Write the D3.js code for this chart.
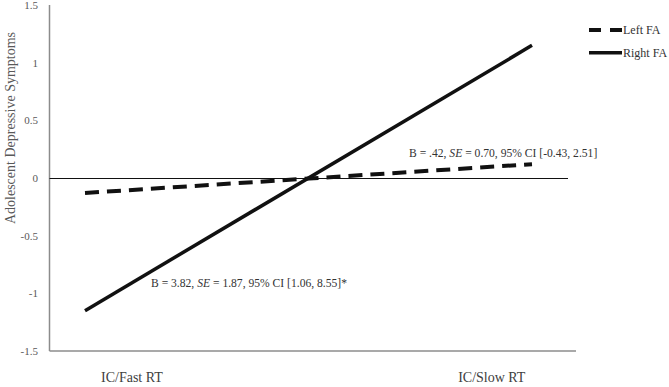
<!DOCTYPE html>
<html>
<head>
<meta charset="utf-8">
<script src="https://cdn.jsdelivr.net/npm/d3@7"></script>
<style>
  body { margin: 0; background: #fff; }
  text { font-family: "Liberation Serif", "Times New Roman", serif; }
</style>
</head>
<body>
<svg id="chart" width="669" height="387"></svg>
<script>
// Simple slopes
var categories = ['IC/Fast RT', 'IC/Slow RT'];
var xLevels = [-1, 1];
var leftFA = [-0.13, 0.12];
var rightFA = [-1.15, 1.15];
var yTicks = [-1.5, -1, -0.5, 0, 0.5, 1, 1.5];
var seriesNames = ['Left FA', 'Right FA'];

var svg = d3.select('#chart');

var y = d3.scaleLinear().domain([-1.5, 1.5]).range([351, 5]);
var x = d3.scaleLinear().domain([-1, 1]).range([85, 532]);

// axes (Excel style: grey lines, no tick marks)
svg.append('line')
  .attr('x1', 49.5).attr('x2', 49.5)
  .attr('y1', y(1.5)).attr('y2', y(-1.5))
  .attr('stroke', '#8c8c8c').attr('stroke-width', 1.5);
svg.append('line')
  .attr('x1', 49.5).attr('x2', 576)
  .attr('y1', y(-1.5)).attr('y2', y(-1.5))
  .attr('stroke', '#8c8c8c').attr('stroke-width', 1.5);
// zero reference line
svg.append('line')
  .attr('x1', 49.5).attr('x2', 568)
  .attr('y1', Math.round(y(0)) + 0.5).attr('y2', Math.round(y(0)) + 0.5)
  .attr('stroke', '#111').attr('stroke-width', 1);

svg.append('g')
  .attr('transform', 'translate(38,0)')
  .call(d3.axisLeft(y).tickValues(yTicks).tickSize(0).tickPadding(0)
    .tickFormat(function(d) { return String(d); }))
  .call(function(g) {
    g.select('.domain').remove();
    g.selectAll('text')
      .attr('font-family', '"Liberation Serif", serif')
      .attr('font-size', 11)
      .attr('fill', '#595959');
  });

svg.append('text')
  .attr('transform', 'translate(15,128) rotate(-90)')
  .attr('text-anchor', 'middle')
  .attr('font-size', 14)
  .attr('fill', '#595959')
  .text('Adolescent Depressive Symptoms');

// category labels
svg.selectAll('.cat')
  .data(categories)
  .enter()
  .append('text')
    .attr('class', 'cat')
    .attr('x', function(d, i) { return x(i === 0 ? -0.79 : 0.82); })
    .attr('y', 382)
    .attr('text-anchor', 'middle')
    .attr('font-size', 14)
    .attr('fill', '#404040')
    .text(function(d) { return d; });

var line = d3.line()
  .x(function(d) { return x(d[0]); })
  .y(function(d) { return y(d[1]); });

svg.append('path')
  .datum(d3.zip(xLevels, rightFA))
  .attr('d', line)
  .attr('fill', 'none')
  .attr('stroke', '#111')
  .attr('stroke-width', 3.5);

svg.append('path')
  .datum(d3.zip(xLevels, leftFA))
  .attr('d', line)
  .attr('fill', 'none')
  .attr('stroke', '#111')
  .attr('stroke-width', 4)
  .attr('stroke-dasharray', '14,8');

// annotations
var note1 = svg.append('text')
  .attr('x', 409).attr('y', 157)
  .attr('font-size', 11.6).attr('fill', '#333');
note1.append('tspan').text('B = .42, ');
note1.append('tspan').attr('font-style', 'italic').text('SE');
note1.append('tspan').text(' = 0.70, 95% CI [-0.43, 2.51]');

var note2 = svg.append('text')
  .attr('x', 151).attr('y', 287)
  .attr('font-size', 11.6).attr('fill', '#333');
note2.append('tspan').text('B = 3.82, ');
note2.append('tspan').attr('font-style', 'italic').text('SE');
note2.append('tspan').text(' = 1.87, 95% CI [1.06, 8.55]*');

// legend
var legend = svg.append('g').attr('transform', 'translate(589,30)');
var rows = legend.selectAll('g')
  .data(seriesNames)
  .enter()
  .append('g')
    .attr('transform', function(d, i) { return 'translate(0,' + (i * 22.7) + ')'; });
rows.append('line')
  .attr('x1', 0).attr('x2', 33)
  .attr('stroke', '#111')
  .attr('stroke-width', function(d, i) { return i === 0 ? 4 : 3.5; })
  .attr('stroke-dasharray', function(d, i) { return i === 0 ? '12,9' : null; });
rows.append('text')
  .attr('x', 34).attr('y', 4)
  .attr('font-size', 12)
  .attr('fill', '#333')
  .text(function(d) { return d; });
</script>
</body>
</html>
